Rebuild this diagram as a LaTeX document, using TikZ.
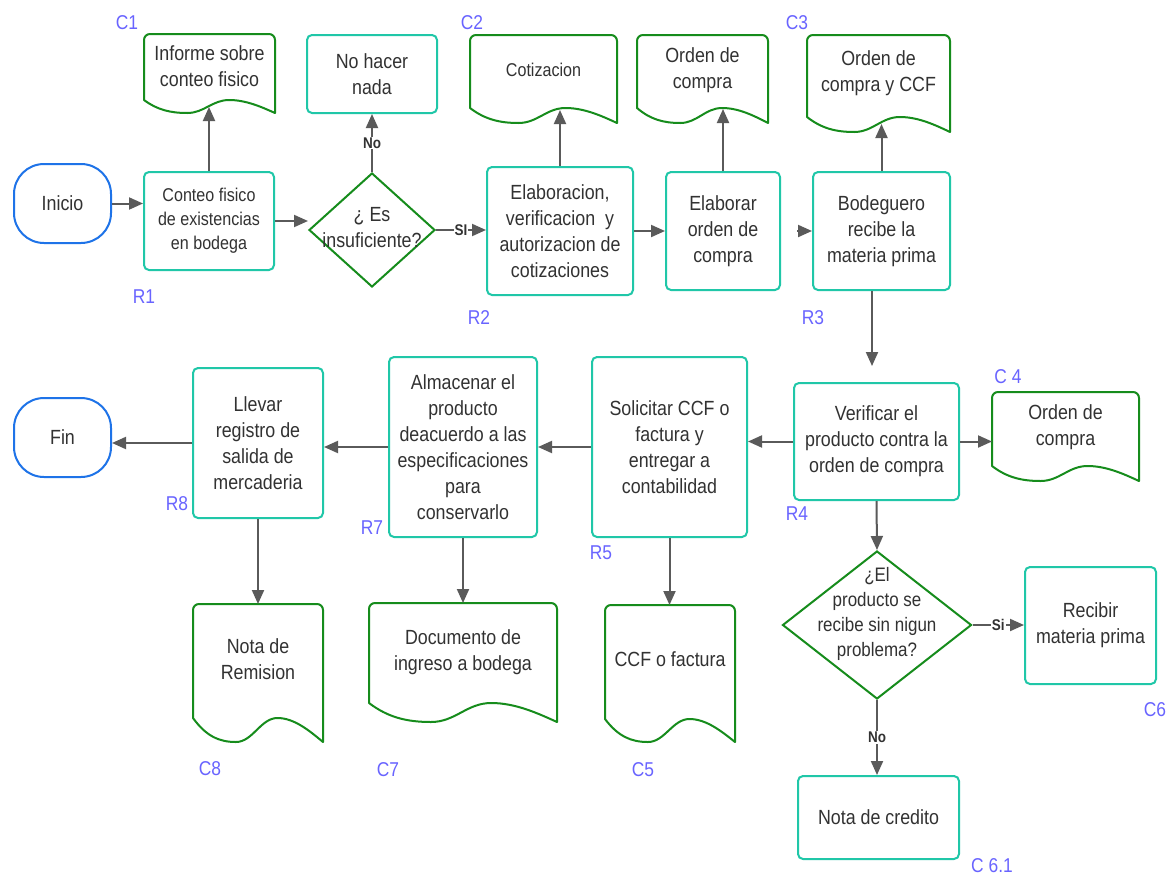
\documentclass[tikz,border=0pt]{standalone}
\usepackage{fontspec}
\setmainfont{Liberation Sans}[FakeStretch=0.87]
\usetikzlibrary{shapes.geometric,arrows.meta}

\definecolor{procc}{RGB}{32,199,168}
\definecolor{docc}{RGB}{22,140,28}
\definecolor{termc}{RGB}{30,115,232}
\definecolor{arrc}{RGB}{90,90,90}
\definecolor{txtc}{RGB}{50,50,50}
\definecolor{labc}{RGB}{105,100,255}

\newcommand{\mainsize}{\fontsize{20.5}{26}\selectfont}
\newcommand{\smallsize}{\fontsize{18.5}{24}\selectfont}

% document symbol: top corners rounded, wavy bottom edge
% #1 = left x, #2 = top y, #3 = right x, #4 = y of bottom-left corner, #5 = wave depth
\newcommand{\docshape}[5]{%
  \draw[docline] ({#3},{#4+#5})
    .. controls ({#1+0.9*(#3-#1)},{#4+0.55*#5}) and ({#1+0.78*(#3-#1)},{#4}) .. ({#1+0.65*(#3-#1)},{#4})
    .. controls ({#1+0.52*(#3-#1)},{#4}) and ({#1+0.46*(#3-#1)},{#4+#5}) .. ({#1+0.33*(#3-#1)},{#4+#5})
    .. controls ({#1+0.2*(#3-#1)},{#4+#5}) and ({#1+0.1*(#3-#1)},{#4+0.75*#5}) .. ({#1},{#4})
    -- ({#1},{#2+6}) .. controls ({#1},{#2+2.7}) and ({#1+2.7},{#2}) .. ({#1+6},{#2})
    -- ({#3-6},{#2}) .. controls ({#3-2.7},{#2}) and ({#3},{#2+2.7}) .. ({#3},{#2+6})
    -- cycle;}

\tikzset{
  proc/.style={draw=procc, line width=2pt, rounded corners=5pt, text=txtc,
    font=\mainsize, align=center, inner sep=2pt},
  term/.style={draw=termc, line width=2pt, rounded corners=30pt, text=txtc,
    font=\mainsize, inner sep=0pt},
  decision/.style={diamond, draw=docc, line width=2pt, inner sep=0pt},
  doctext/.style={text=txtc, font=\mainsize, align=center},
  docline/.style={draw=docc, line width=2pt, line join=round},
  tag/.style={text=labc, font=\fontsize{20}{24}\selectfont},
  flow/.style={draw=arrc, line width=2pt, -{Triangle[length=14pt,width=12pt]}},
  cond/.style={font=\bfseries\fontsize{15.5}{18}\selectfont, text=txtc,
    fill=white, inner sep=1pt},
}

\begin{document}
\begin{tikzpicture}[x=1pt,y=-1pt]
\fill[white] (0,0) rectangle (1169,878);
\useasboundingbox (0,0) rectangle (1169,878);

% ---------- documents ----------
\docshape{144}{34}{275}{100}{13}
\docshape{470}{35}{617}{108}{15}
\docshape{637}{35}{768}{108}{15}
\docshape{807}{35}{950}{117}{15}
\docshape{992}{392}{1139}{466}{15}
\docshape{193}{604}{323}{718}{24}
\docshape{369}{603}{557}{703}{19}
\docshape{605}{605}{735}{719}{23}

\node[doctext] (c1t) at (209.5,66) {Informe sobre\\conteo fisico};
\node[doctext, font=\smallsize] (c2t) at (543.5,70) {Cotizacion};
\node[doctext] (oct) at (702.5,70) {Orden de\\compra};
\node[doctext] (c3t) at (878.5,73) {Orden de\\compra y CCF};
\node[doctext] (c4t) at (1065.5,427) {Orden de\\compra};
\node[doctext] (c8t) at (258,659) {Nota de\\Remision};
\node[doctext] (c7t) at (463,652) {Documento de\\ingreso a bodega};
\node[doctext] (c5t) at (670,659) {CCF o factura};

% connection points on the documents
\coordinate (c1in) at (209,107);
\coordinate (c2in) at (560,110);
\coordinate (ocin) at (723,109);
\coordinate (c3in) at (881,124);
\coordinate (c4in) at (992,441);
\coordinate (c8in) at (258,604);
\coordinate (c7in) at (463,603);
\coordinate (c5in) at (670,605);
\coordinate (gap) at (797,231);

% ---------- terminals ----------
\node[term, minimum width=97pt, minimum height=79pt] (inicio) at (62.5,203.5) {Inicio};
\node[term, minimum width=97pt, minimum height=79pt] (fin) at (62.5,437.5) {Fin};

% ---------- processes ----------
\node[proc, font=\smallsize, minimum width=130pt, minimum height=98pt] (conteo) at (209,221)
  {Conteo fisico\\de existencias\\en bodega};
\node[proc, minimum width=130pt, minimum height=78pt] (noh) at (372,74) {No hacer\\nada};
\node[proc, minimum width=146pt, minimum height=128pt] (elab) at (560,231)
  {Elaboracion,\\verificacion\ \ y\\autorizacion de\\cotizaciones};
\node[proc, minimum width=114pt, minimum height=118pt] (elab2) at (723,231)
  {Elaborar\\orden de\\compra};
\node[proc, minimum width=137pt, minimum height=118pt] (bodeg) at (881.5,231)
  {Bodeguero\\recibe la\\materia prima};
\node[proc, minimum width=165pt, minimum height=117pt] (verif) at (876.5,441.5)
  {Verificar el\\producto contra la\\orden de compra};
\node[proc, minimum width=131pt, minimum height=117pt] (recibir) at (1090.5,625.5)
  {Recibir\\materia prima};
\node[proc, minimum width=161pt, minimum height=83pt] (nota) at (878.5,817.5) {Nota de credito};
\node[proc, minimum width=155pt, minimum height=180pt] (solic) at (669.5,447)
  {Solicitar CCF o\\factura y\\entregar a\\contabilidad};
\node[proc, minimum width=148pt, minimum height=180pt] (alm) at (463,447)
  {Almacenar el\\producto\\deacuerdo a las\\especificaciones\\para\\conservarlo};
\node[proc, minimum width=130pt, minimum height=150pt] (llevar) at (258,443)
  {Llevar\\registro de\\salida de\\mercaderia};

% ---------- decisions ----------
\node[decision, minimum width=126pt, minimum height=114pt] (d1) at (372,230) {};
\node[doctext] (d1t) at (372,228) {¿ Es\\insuficiente?};
\node[decision, minimum width=189pt, minimum height=148pt] (d2) at (877,625) {};
\node[doctext, font=\fontsize{19.5}{25}\selectfont] (d2t) at (877,614)
  {¿El\\producto se\\recibe sin nigun\\problema?};

% ---------- reference tags ----------
\node[tag] (tc1) at (127,23) {C1};
\node[tag] (tc2) at (472,23) {C2};
\node[tag] (tc3) at (797,23) {C3};
\node[tag] (tr1) at (144,297) {R1};
\node[tag] (tr2) at (479,318) {R2};
\node[tag] (tr3) at (813,318) {R3};
\node[tag] (tc4) at (1008,377) {C 4};
\node[tag] (tr4) at (797,514) {R4};
\node[tag] (tc6) at (1155,710) {C6};
\node[tag] (tc61) at (992,866) {C 6.1};
\node[tag] (tc8) at (210,769) {C8};
\node[tag] (tr8) at (177,504) {R8};
\node[tag] (tc7) at (388,770) {C7};
\node[tag] (tr7) at (372,528) {R7};
\node[tag] (tc5) at (643,770) {C5};
\node[tag] (tr5) at (601,553) {R5};

% ---------- connectors ----------
\draw[flow] (inicio.east) -- (inicio.east -| conteo.west);
\draw[flow] (conteo.north) -- (c1in);
\draw[flow] (conteo.east) -- (conteo.east -| d1.west);
\draw[flow] (d1.north) -- node[cond] {No} (noh.south);
\draw[flow] (d1.east) -- node[cond] {SI} (d1.east -| elab.west);
\draw[flow] (elab.north) -- (elab.north |- c2in);
\draw[flow] (elab.east) -- (elab.east -| elab2.west);
\draw[flow] (elab2.north) -- (elab2.north |- ocin);
\draw[flow] (gap) -- (gap -| bodeg.west);
\draw[flow] (bodeg.north) -- (bodeg.north |- c3in);
\draw[flow, shorten >=16pt] ([xshift=-9.5pt]bodeg.south) -- ([xshift=-9.5pt]bodeg.south |- verif.north);
\draw[flow] (verif.east) -- (verif.east -| c4in);
\draw[flow] (verif.west) -- (verif.west -| solic.east);
\draw[flow] (verif.south) -- (d2.north);
\draw[flow] (d2.east) -- node[cond] {Si} (d2.east -| recibir.west);
\draw[flow] (d2.south) -- node[cond] {No} (d2.south |- nota.north);
\draw[flow] (solic.west) -- (solic.west -| alm.east);
\draw[flow] (solic.south) -- (solic.south |- c5in);
\draw[flow] (alm.west) -- (alm.west -| llevar.east);
\draw[flow] (alm.south) -- (alm.south |- c7in);
\draw[flow] (llevar.west) -- (llevar.west -| fin.east);
\draw[flow] (llevar.south) -- (llevar.south |- c8in);
\end{tikzpicture}
\end{document}
